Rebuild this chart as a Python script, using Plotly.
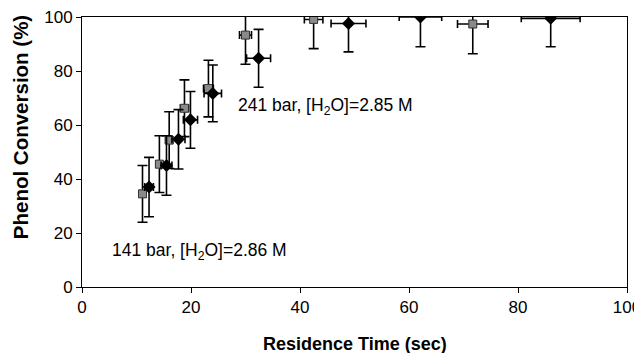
import plotly.graph_objects as go

# 241 bar series (black diamonds)
t_241 = [12.3, 15.5, 17.7, 19.9, 24.0, 32.4, 48.9, 62.1, 86.0]
conv_241 = [37.0, 45.0, 54.7, 61.9, 71.7, 84.7, 97.6, 100.0, 99.5]
t_err_241 = [0.8, 1.0, 1.2, 1.3, 1.6, 2.2, 3.2, 3.9, 5.4]
conv_err_241 = [11, 11, 11, 10.5, 10.5, 10.7, 10.5, 11, 10.5]

# 141 bar series (gray squares)
t_141 = [11.1, 14.2, 16.0, 18.8, 23.2, 30.0, 42.5, 71.7]
conv_141 = [34.5, 45.5, 54.4, 66.2, 73.5, 93.3, 99.1, 97.4]
t_err_141 = [0.45, 0.6, 0.65, 0.75, 0.9, 1.1, 1.7, 2.8]
conv_err_141 = [10.5, 10.5, 10.5, 10.5, 10.5, 10.8, 10.8, 11]

x_ticks = [0, 20, 40, 60, 80, 100]
y_ticks = [0, 20, 40, 60, 80, 100]

FONT = "Liberation Sans, Arial, sans-serif"

# page-pixel geometry of plot area (page has 8px body margin)
PX0, PX1, PY0, PY1 = 82, 627, 16.7, 287
def px(x):
    return (x - PX0) / (PX1 - PX0)
def py(y):
    return (PY1 - y) / (PY1 - PY0)

fig = go.Figure()
fig.add_trace(go.Scatter(
    x=t_141, y=conv_141, mode="markers",
    marker=dict(symbol="square", size=8, color="#8a8a8a",
                line=dict(color="#333333", width=1)),
    error_x=dict(type="data", array=t_err_141, color="black", thickness=1.6, width=4),
    error_y=dict(type="data", array=conv_err_141, color="black", thickness=1.6, width=5),
    showlegend=False))
fig.add_trace(go.Scatter(
    x=t_241, y=conv_241, mode="markers",
    marker=dict(symbol="diamond", size=10, color="black"),
    error_x=dict(type="data", array=t_err_241, color="black", thickness=1.6, width=4),
    error_y=dict(type="data", array=conv_err_241, color="black", thickness=1.6, width=5),
    showlegend=False))

fig.add_annotation(x=44.6, y=67, text="241 bar, [H<sub>2</sub>O]=2.85 M",
                   showarrow=False, font=dict(family=FONT, size=17.5, color="black"))
fig.add_annotation(x=21.5, y=13, text="141 bar, [H<sub>2</sub>O]=2.86 M",
                   showarrow=False, font=dict(family=FONT, size=17.5, color="black"))

# axis titles
fig.add_annotation(xref="paper", yref="paper", x=px(355), y=py(344),
                   xanchor="center", yanchor="middle",
                   text="<b>Residence Time (sec)</b>", showarrow=False,
                   font=dict(family=FONT, size=18, color="black"))
fig.add_annotation(xref="paper", yref="paper", x=px(20), y=py(127),
                   xanchor="center", yanchor="middle",
                   text="<b>Phenol Conversion (%)</b>", showarrow=False, textangle=-90,
                   font=dict(family=FONT, size=20.5, color="black"))

axis_common = dict(showgrid=False, zeroline=False, showline=True, linecolor="black",
                   linewidth=1, mirror=True, ticks="outside", ticklen=5, tickcolor="black",
                   automargin=False, ticklabeloverflow="allow",
                   tickfont=dict(family=FONT, size=17, color="black"))

fig.update_xaxes(range=[0, 100], tickvals=x_ticks, **axis_common)
fig.update_yaxes(range=[0, 100], tickvals=y_ticks, **axis_common)

fig.update_layout(width=634, height=345, margin=dict(l=74, r=15, t=9, b=66),
                  plot_bgcolor="white", paper_bgcolor="white")
fig.write_html("out.html")
